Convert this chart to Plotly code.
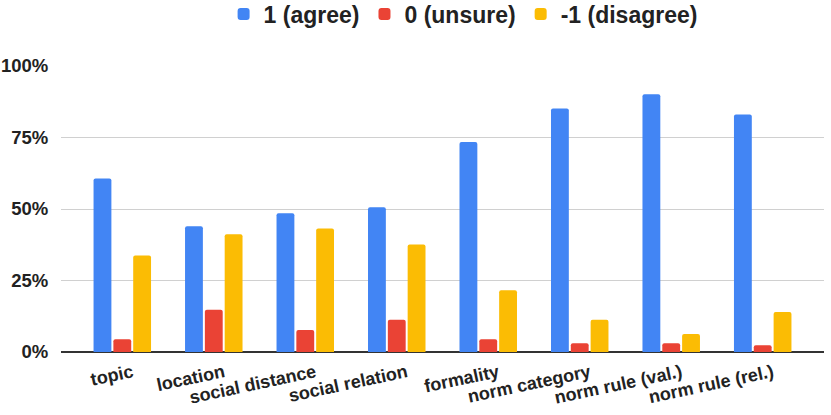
import plotly.graph_objects as go

categories = ["topic", "location", "social distance", "social relation", "formality",
              "norm category", "norm rule (val.)", "norm rule (rel.)"]
agree = [0.607, 0.44, 0.485, 0.506, 0.734, 0.851, 0.901, 0.83]
unsure = [0.045, 0.148, 0.077, 0.113, 0.045, 0.031, 0.031, 0.024]
disagree = [0.337, 0.412, 0.432, 0.376, 0.216, 0.113, 0.063, 0.14]
series_names = ["1 (agree)", "0 (unsure)", "-1 (disagree)"]
colors = ["#4285F4", "#EA4335", "#FBBC04"]
y_ticks = [0, 0.25, 0.5, 0.75, 1.0]
y_tick_labels = ["0%", "25%", "50%", "75%", "100%"]

fig = go.Figure()
for name, vals, c in zip(series_names, [agree, unsure, disagree], colors):
    fig.add_trace(go.Bar(x=categories, y=vals, name=name,
                         marker=dict(color=c, line=dict(width=0))))

font_family = "Liberation Sans, Arial, sans-serif"
fig.update_layout(
    width=831, height=415,
    margin=dict(l=61, r=7, t=66, b=63, autoexpand=False),
    paper_bgcolor="white", plot_bgcolor="white",
    barmode="group", bargap=0.35, bargroupgap=0.1,
    barcornerradius=2,
    font=dict(family=font_family, color="#222222"),
    legend=dict(orientation="h", x=0.527, xanchor="center",
                y=1 + (66 - 14) / 286, yanchor="middle",
                font=dict(size=23, weight="bold", family=font_family),
                itemwidth=30, traceorder="normal", bgcolor="rgba(0,0,0,0)"),
    showlegend=True,
)
fig.update_xaxes(
    range=[-0.67, 7.67], tickangle=-12, showgrid=False, showline=False,
    tickfont=dict(size=18, weight="bold", family=font_family),
    ticks="", zeroline=False, automargin=False,
    ticklabelstandoff=6, ticklabelshift=10,
)
fig.update_yaxes(
    range=[0, 1.0], tickvals=y_ticks, ticktext=y_tick_labels,
    showgrid=True, gridcolor="#d0d0d0", gridwidth=1,
    zeroline=True, zerolinecolor="#333333", zerolinewidth=1.5,
    tickfont=dict(size=18.5, weight="bold", family=font_family),
    ticks="outside", ticklen=8, tickcolor="rgba(0,0,0,0)", automargin=False,
)
fig.write_html("out.html", config={"displayModeBar": False},
               post_script="document.body.style.margin='0px';")
